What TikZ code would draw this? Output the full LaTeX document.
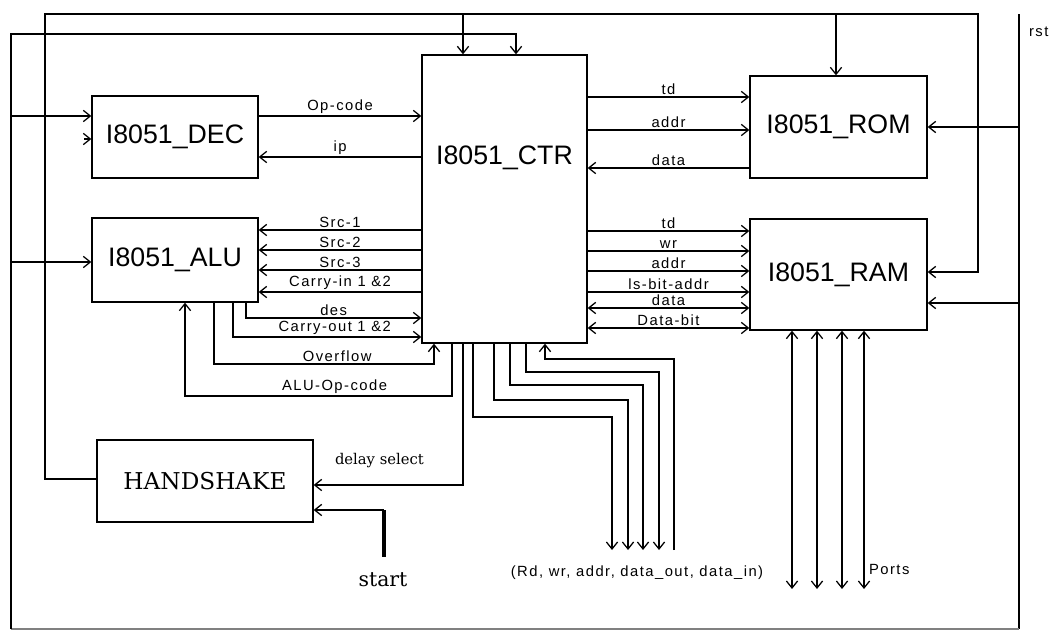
\documentclass[tikz,border=0pt]{standalone}
\usepackage{fontspec}
\setmainfont{Liberation Sans}
\newfontfamily\sigfont[LetterSpace=10]{Liberation Sans}
\newfontfamily\typfont{DejaVu Serif}
\usetikzlibrary{arrows.meta}

\begin{document}
\begin{tikzpicture}[x=0.025cm,y=-0.025cm,line width=0.9pt,
    >={Straight Barb[length=5pt,width=8pt]},
    blk/.style={draw,inner sep=0pt,font=\fontsize{19}{22}\selectfont},
    sig/.style={font=\sigfont\fontsize{10.5}{12}\selectfont,inner sep=1pt},
    typ/.style={font=\typfont\fontsize{10.5}{12}\selectfont,inner sep=1pt}]
    \useasboundingbox (0,0) rectangle (1057,631);

    % blocks
    \node[blk,minimum width=4.15cm,minimum height=2.05cm] (dec) at (175,137) {I8051\_DEC};
    \node[blk,minimum width=4.15cm,minimum height=2.1cm] (alu) at (175,260) {I8051\_ALU};
    \node[blk,minimum width=4.125cm,minimum height=7.2cm] (ctr) at (504.5,199) {};
    \node[font=\fontsize{19}{22}\selectfont] (ctrtxt) at (504.5,158) {I8051\_CTR};
    \node[blk,minimum width=4.425cm,minimum height=2.55cm] (rom) at (838.5,127) {I8051\_ROM};
    \node[blk,minimum width=4.425cm,minimum height=2.775cm] (ram) at (838.5,274.5) {I8051\_RAM};
    \node[blk,font=\typfont\fontsize{16.5}{20}\selectfont,
        minimum width=5.4cm,minimum height=2.05cm] (hs) at (205,481) {HANDSHAKE};

    % reset line
    \coordinate (rst) at (1019,14);
    \coordinate (rstend) at (1019,629);
    \node[sig,anchor=west] (rstlbl) at (1027,32) {rst};
    \draw (rst) -- (rstend);
    \draw[black!50] (rstend) -- (11,629);
    \draw[->] (11,629) -- (11,34) -| (ctr.north -| 516,0);
    \draw[->] (11,116) -- (dec.west |- 0,116);
    \draw[->] (dec.west |- 0,139) ++(-7,0) -- (dec.west |- 0,139);
    \draw[->] (11,262) -- (alu.west |- 0,262);
    \draw[->] (rst |- rom.east) -- (rom.east);
    \draw[->] (rst |- 0,303) -- (ram.east |- 0,303);

    % handshake enable
    \draw[->] (hs.west |- 0,479) -| (45,14) -| (978,272) -- (ram.east |- 0,272);
    \draw[->] (463,14) -- (ctr.north -| 463,0);
    \draw[->] (836,14) -- (rom.north -| 836,0);

    % decoder
    \draw[->] (dec.east |- 0,116) -- node[sig,above] {Op-code} (ctr.west |- 0,116);
    \draw[->] (ctr.west |- 0,157) -- node[sig,above] {ip} (dec.east |- 0,157);

    % rom
    \draw[->] (ctr.east |- 0,97) -- node[sig,above] {td} (rom.west |- 0,97);
    \draw[->] (ctr.east |- 0,130) -- node[sig,above] {addr} (rom.west |- 0,130);
    \draw[->] (rom.west |- 0,168) -- node[sig,above] {data} (ctr.east |- 0,168);

    % ram
    \foreach \y/\lab in {231/td,251/wr,271/addr,292/ls-bit-addr}{
        \draw[->] (ctr.east |- 0,\y) -- node[sig,above] {\lab} (ram.west |- 0,\y);
    }
    \foreach \y/\lab in {308/data,328/Data-bit}{
        \draw[<->] (ctr.east |- 0,\y) -- node[sig,above] {\lab} (ram.west |- 0,\y);
    }
    \foreach \x in {792,817,842,864}{
        \draw[<->] (ram.south -| \x,0) -- (\x,589);
    }
    \node[sig,anchor=west] (ports) at (867,569) {Ports};

    % alu
    \foreach \y/\lab in {230/Src-1,250/Src-2,270/Src-3,292/Carry-in 1 \&2}{
        \draw[->] (ctr.west |- 0,\y) -- node[sig,above] {\lab} (alu.east |- 0,\y);
    }
    \draw[->] (alu.south -| 246,0) |- node[sig,above,pos=0.75] {des} (ctr.west |- 0,318);
    \draw[->] (alu.south -| 233,0) |- node[sig,above,pos=0.77] {Carry-out 1 \&2} (ctr.west |- 0,337);
    \draw[->] (alu.south -| 214,0) |- node[sig,above,pos=0.78] {Overflow} (434,364)
        -- (ctr.south -| 434,0);
    \draw[->] (ctr.south -| 452,0) |- node[sig,above,pos=0.72] {ALU-Op-code} (185,396)
        -- (alu.south -| 185,0);

    % handshake
    \draw[->] (ctr.south -| 463,0) |- node[typ,above=11pt,pos=0.78] {delay select} (hs.east |- 0,485);
    \coordinate (start) at (384,510);
    \draw[->] (start) -- (hs.east |- start);
    \draw[line width=2.2pt] (start) -- (384,557);
    \node[typ,font=\typfont\fontsize{14.5}{16}\selectfont] (startlbl) at (383,580) {start};

    % external bus
    \foreach \a/\b/\c in {473/417/612,494/400/628,510/385/643,526/372/659}{
        \draw[->] (ctr.south -| \a,0) |- (\c,\b) -- (\c,550);
    }
    \draw[->] (674,550) |- (545,359) -- (ctr.south -| 545,0);
    \node[sig] (bus) at (637,573) {(Rd, wr, addr, data\_out, data\_in)};
\end{tikzpicture}
\end{document}
